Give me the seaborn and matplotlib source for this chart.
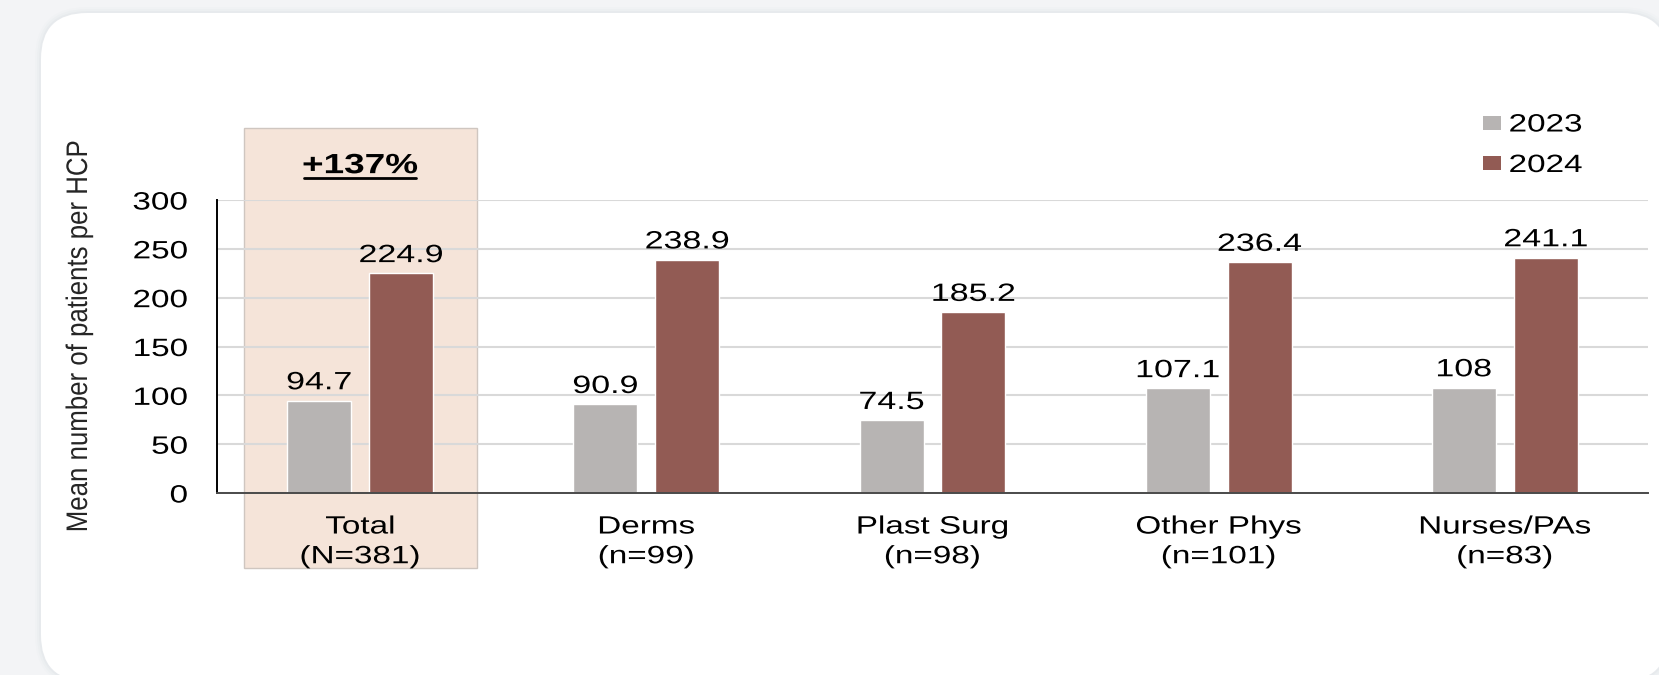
import matplotlib
matplotlib.use("Agg")
import matplotlib.pyplot as plt
import numpy as np
import pandas as pd
import seaborn as sns
from matplotlib.patches import FancyBboxPatch, Rectangle, Patch
from matplotlib.patheffects import AbstractPathEffect
from matplotlib.transforms import Affine2D, IdentityTransform
from matplotlib.lines import Line2D

# ---- data -------------------------------------------------------------
groups = ["Total\n(N=381)", "Derms\n(n=99)", "Plast Surg\n(n=98)",
          "Other Phys\n(n=101)", "Nurses/PAs\n(n=83)"]
years = ["2023", "2024"]
values_2023 = [94.7, 90.9, 74.5, 107.1, 108]
values_2024 = [224.9, 238.9, 185.2, 236.4, 241.1]
total_change_label = "+137%"
y_ticks = [0, 50, 100, 150, 200, 250, 300]
y_label = "Mean number of patients per HCP"

# ---- style ------------------------------------------------------------
BAR_COLORS = ["#B7B4B3", "#925B54"]
HIGHLIGHT = "#F5E4D9"
GRID = "#D9D9D9"
PAGE_BG = "#F3F4F6"
FS = 18
WIDE = 1.33

sns.set_theme(style="white")
plt.rcParams["font.family"] = ["Liberation Sans", "DejaVu Sans"]
plt.rcParams["text.color"] = "black"


class WideText(AbstractPathEffect):
    """Draw glyph outlines widened along a local axis about an anchor."""

    def __init__(self, sx=1.0, sy=1.0, anchor="center"):
        super().__init__()
        self.sx, self.sy, self.anchor = sx, sy, anchor

    def draw_path(self, renderer, gc, tpath, affine, rgbFace=None):
        ext = tpath.get_extents()
        ax0 = {"left": ext.x0, "right": ext.x1,
               "center": 0.5 * (ext.x0 + ext.x1)}[self.anchor]
        ay0 = 0.5 * (ext.y0 + ext.y1)
        widen = (Affine2D().translate(-ax0, -ay0)
                 .scale(self.sx, self.sy).translate(ax0, ay0))
        renderer.draw_path(gc, tpath, widen + affine, rgbFace)


W, H = 1659, 675
fig = plt.figure(figsize=(W / 100, H / 100), dpi=100)
fig.patch.set_facecolor(PAGE_BG)

# rounded white card with a soft shadow
for grow, alpha in [(6, 0.025), (4, 0.035), (2, 0.05)]:
    fig.patches.append(FancyBboxPatch(
        (41 - grow, -6 - grow), 1627 + 2 * grow, 668 + 2 * grow,
        boxstyle="round,pad=0,rounding_size=%d" % (46 + grow),
        transform=IdentityTransform(), facecolor="#9AA0AA", alpha=alpha,
        edgecolor="none", zorder=-3))
fig.patches.append(FancyBboxPatch(
    (41, -6), 1627, 668, boxstyle="round,pad=0,rounding_size=46",
    transform=IdentityTransform(), facecolor="white", edgecolor="none",
    zorder=-2))

# plot area: x 217..1648 px, y 200..493 px (from top)
ax = fig.add_axes([217 / W, (H - 493) / H, 1431 / W, 293 / H])
ax.set_facecolor("none")

df = pd.DataFrame({
    "group": groups * 2,
    "year": [years[0]] * len(groups) + [years[1]] * len(groups),
    "value": values_2023 + values_2024,
})

sns.barplot(data=df, x="group", y="value", hue="year", order=groups,
            hue_order=years, palette=BAR_COLORS, width=0.572, gap=0.217,
            errorbar=None, saturation=1, legend=False, ax=ax, zorder=2)

ax.set_xlim(-0.5, len(groups) - 0.5)
ax.set_ylim(0, 300)
ax.set_yticks(y_ticks)
ax.yaxis.grid(True, color=GRID, linewidth=1.5, zorder=1)
ax.set_axisbelow(True)
ax.set_xlabel("")

for side in ["top", "right"]:
    ax.spines[side].set_visible(False)
ax.spines["left"].set_color("black")
ax.spines["left"].set_linewidth(1.4)
ax.spines["bottom"].set_color("#4A4A4A")
ax.spines["bottom"].set_linewidth(1.4)
ax.spines["left"].set_zorder(3)
ax.spines["bottom"].set_zorder(3)

ax.tick_params(axis="both", length=0, labelsize=FS, colors="black")
ax.tick_params(axis="x", pad=15.5)
ax.tick_params(axis="y", pad=21)
for t in ax.get_xticklabels():
    t.set_linespacing(1.3)
    t.set_path_effects([WideText(sx=WIDE, anchor="center")])
for t in ax.get_yticklabels():
    t.set_path_effects([WideText(sx=WIDE, anchor="right")])

# shaded column behind the Total group
ax.add_patch(Rectangle((-0.407, -76.8), 0.814, 450.5, facecolor=HIGHLIGHT,
                       edgecolor="#CFC6C0", linewidth=1.0, clip_on=False,
                       zorder=0.2))

# value labels
for cont, vals in zip(ax.containers, [values_2023, values_2024]):
    texts = ax.bar_label(cont, labels=[f"{v:g}" for v in vals],
                         padding=4.5, fontsize=FS)
    for t in texts:
        t.set_path_effects([WideText(sx=1.36, anchor="center")])

# y axis title
ax.set_ylabel(y_label, fontsize=18.6)
ax.yaxis.label.set(ha="center", va="center")
ax.yaxis.set_label_coords((79 - 217) / 1431, (493 - 336) / 293)
ax.yaxis.label.set_path_effects([WideText(sy=1.15, anchor="center")])

# change annotation above the Total group
chg = ax.text(0, 327.5, total_change_label, ha="center", va="baseline",
              fontsize=20, fontweight="bold", clip_on=False, zorder=3)
chg.set_path_effects([WideText(sx=1.33, anchor="center")])

# legend
handles = [Patch(facecolor=c, edgecolor="none") for c in BAR_COLORS]
leg = fig.legend(handles, years, loc="upper left",
                 bbox_to_anchor=(1483 / W, 1 - 112.5 / H),
                 bbox_transform=fig.transFigure, frameon=False,
                 fontsize=FS, handlelength=0.72, handleheight=0.48,
                 handletextpad=0.32, labelspacing=0.66, borderpad=0,
                 borderaxespad=0)
for t in leg.get_texts():
    t.set_path_effects([WideText(sx=WIDE, anchor="left")])

# underline under the change annotation
fig.canvas.draw()
bb = chg.get_window_extent()
cx = 0.5 * (bb.x0 + bb.x1)
half = 0.5 * bb.width * 1.33 * 0.97
uy = bb.y0 + 1.5
fig.add_artist(Line2D([cx - half, cx + half], [uy, uy], color="black",
                      linewidth=2.0, transform=IdentityTransform()))

fig.savefig("out.png", dpi=100, facecolor=fig.get_facecolor())
